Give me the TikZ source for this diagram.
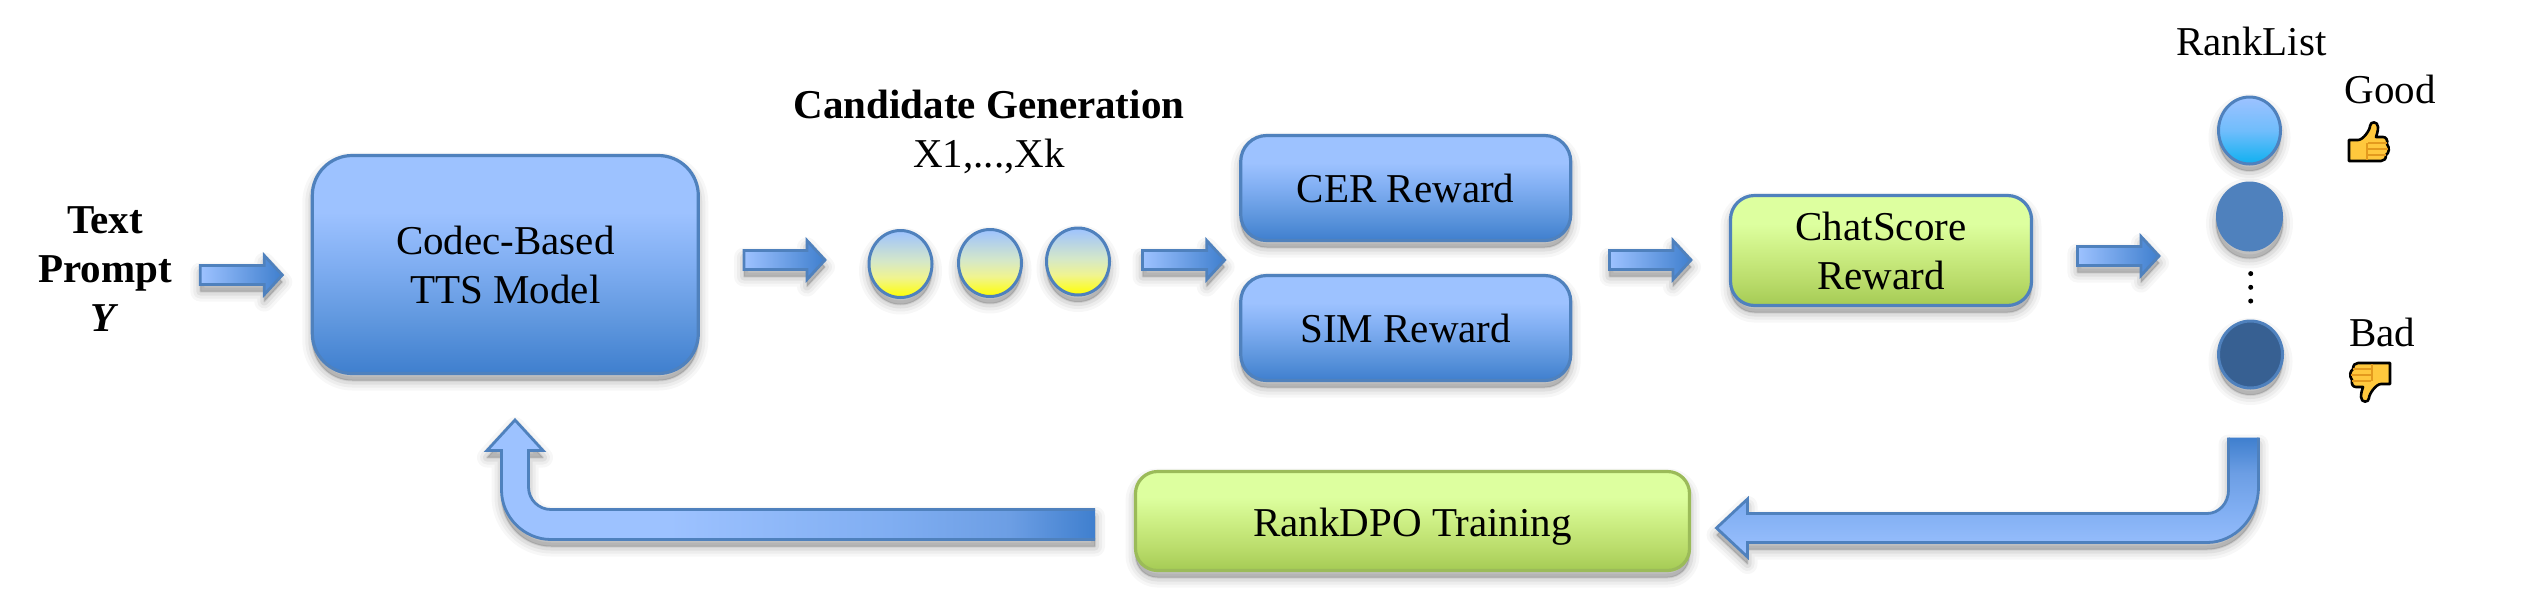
\documentclass[tikz,border=0pt]{standalone}
\usepackage{fontspec}
\setmainfont{Liberation Serif}
\usetikzlibrary{calc,shapes.geometric}
\definecolor{edgeblue}{HTML}{4F81BD}
\definecolor{lightblue}{HTML}{9DC2FF}
\definecolor{midblue}{HTML}{80AEF2}
\definecolor{darkblue}{HTML}{3F7FCE}
\definecolor{bluea}{HTML}{5F97DE}
\definecolor{blueb}{HTML}{6C9EE4}
\definecolor{greentop}{HTML}{DDFF9F}
\definecolor{greenbot}{HTML}{A5CB55}
\definecolor{greena}{HTML}{BBDD6C}
\definecolor{greenb}{HTML}{CDEF85}
\definecolor{greenedge}{HTML}{9BBB59}
\definecolor{canda}{HTML}{F0F490}
\definecolor{candb}{HTML}{D5E8C8}
\definecolor{cyanbot}{HTML}{0FB0F0}
\definecolor{cyanmid}{HTML}{70BDFC}
\definecolor{rankdark}{HTML}{376092}
\definecolor{thumbfill}{HTML}{FFC83D}
\definecolor{thumbline}{HTML}{E39A1E}
\pgfdeclareverticalshading{boxblue}{100bp}{color(0bp)=(darkblue);color(25bp)=(darkblue);color(37bp)=(bluea);color(50bp)=(midblue);color(62bp)=(lightblue);color(100bp)=(lightblue)}
\pgfdeclareverticalshading{boxgreen}{100bp}{color(0bp)=(greenbot);color(25bp)=(greenbot);color(37bp)=(greena);color(50bp)=(greenb);color(62bp)=(greentop);color(100bp)=(greentop)}
\pgfdeclareverticalshading{candidate}{100bp}{color(0bp)=(yellow);color(25bp)=(yellow);color(40bp)=(canda);color(52bp)=(candb);color(75bp)=(lightblue);color(100bp)=(lightblue)}
\pgfdeclareverticalshading{topcircle}{100bp}{color(0bp)=(cyanbot);color(25bp)=(cyanbot);color(50bp)=(cyanmid);color(75bp)=(lightblue);color(100bp)=(lightblue)}
\pgfdeclareverticalshading{downbend}{100bp}{color(0bp)=(lightblue);color(25bp)=(lightblue);color(45bp)=(midblue);color(60bp)=(blueb);color(75bp)=(darkblue);color(100bp)=(darkblue)}
\pgfdeclarehorizontalshading{sidebend}{100bp}{color(0bp)=(lightblue);color(25bp)=(lightblue);color(40bp)=(lightblue);color(58bp)=(midblue);color(68bp)=(blueb);color(75bp)=(darkblue);color(100bp)=(darkblue)}
\tikzset{
  softshadow/.style={
    preaction={fill=black,draw=black,opacity=.03,line join=round,line width=10pt,transform canvas={yshift=-3.5pt}},
    preaction={fill=black,draw=black,opacity=.04,line join=round,line width=7pt,transform canvas={yshift=-3.5pt}},
    preaction={fill=black,draw=black,opacity=.06,line join=round,line width=4pt,transform canvas={yshift=-3.5pt}},
    preaction={fill=black,draw=black,opacity=.08,line join=round,line width=1pt,transform canvas={yshift=-3.5pt}}},
  label text/.style={font=\fontsize{20.5}{24.5}\selectfont,inner sep=0pt,outer sep=0pt},
  panel/.style={label text,softshadow,draw=edgeblue,line width=1.6pt,align=center,minimum height=#1},
  bluebox/.style={panel=#1,shading=boxblue},
  greenbox/.style={panel=#1,shading=boxgreen},
  candidate dot/.style={ellipse,softshadow,draw=edgeblue,line width=1.5pt,shading=candidate,minimum width=31.5pt,minimum height=33.5pt,inner sep=0pt,outer sep=0pt},
  rank dot/.style={ellipse,softshadow,line width=1.5pt,minimum width=31.5pt,minimum height=33.5pt,inner sep=0pt,outer sep=0pt},
  blockarrow/.style={softshadow,draw=edgeblue,line width=1.4pt,miter limit=10,left color=lightblue,right color=darkblue},
  bentedge/.style={draw=edgeblue,line width=1.4pt,miter limit=10},
  thumbshape/.style={draw=black,line width=1.3pt,fill=thumbfill,line join=round},
  thumbcrease/.style={draw=thumbline,line width=.6pt}
}
% block arrow pointing right, from a named tail to a named tip
\newcommand{\rightblock}[2]{%
  \draw[blockarrow] ($(#1)+(0,9.5)$) -- ($(#2)+(-18,9.5)$) -- ($(#2)+(-18,19.5)$) -- (#2)
    -- ($(#2)+(-18,-19.5)$) -- ($(#2)+(-18,-9.5)$) -- ($(#1)+(0,-9.5)$) -- cycle;}
\newcommand{\thumbup}[1]{%
  \begin{scope}[shift={(#1)}]
    \draw[thumbshape] (0,39) -- (0,18) -- (9,18) .. controls (14,18) and (21,8) .. (21,4)
      .. controls (21,-1) and (29,-1) .. (29,5) .. controls (29,9) and (28,12) .. (27,15)
      -- (34,15) .. controls (37,15) and (39,18) .. (38,22) .. controls (41,26) and (40,31) .. (37,33)
      .. controls (37,37) and (35,39) .. (32,39) -- cycle;
    \draw[thumbcrease] (18,21) -- (18,38) (19,21) -- (38,21) (19,27) -- (39,27) (19,33) -- (37,33);
  \end{scope}}
\newcommand{\thumbdown}[1]{%
  \begin{scope}[shift={(#1)}]
    \draw[thumbshape] (39,0) -- (39,21) -- (30,21) .. controls (25,21) and (18,31) .. (18,35)
      .. controls (18,40) and (10,40) .. (10,34) .. controls (10,30) and (11,27) .. (12,24)
      -- (5,24) .. controls (2,24) and (0,21) .. (1,17) .. controls (-2,13) and (-1,8) .. (2,6)
      .. controls (2,2) and (4,0) .. (7,0) -- cycle;
    \draw[thumbcrease] (21,18) -- (21,1) (20,18) -- (1,18) (20,12) -- (0,12) (20,6) -- (2,6);
  \end{scope}}
\begin{document}
\begin{tikzpicture}[x=.5pt,y=-.5pt]
\useasboundingbox (0,0) rectangle (2527,596);
% text labels
\node[label text,align=center] (prompt) at (105,269.5) {\textbf{Text}\\\textbf{Prompt}\\\textbf{\textit{Y}}};
\node[label text,align=center] (cand) at (989,132) {\textbf{Candidate Generation}\\X1,...,Xk};
% boxes
\node[bluebox=109pt,rounded corners=20pt,minimum width=193pt] (codec) at (505.3,264.5) {Codec-Based\\TTS Model};
\node[bluebox=52.5pt,rounded corners=13pt,minimum width=165pt,text height=14pt,text depth=0pt] (cer) at (1405.7,188) {CER Reward};
\node[bluebox=52.5pt,rounded corners=13pt,minimum width=165pt,text height=14pt,text depth=0pt] (sim) at (1405.7,328) {SIM Reward};
\node[greenbox=55pt,rounded corners=12pt,minimum width=150.5pt] (chat) at (1881,250.5) {ChatScore\\Reward};
\node[greenbox=49.5pt,rounded corners=11pt,minimum width=277pt,draw=greenedge,text height=15pt,text depth=0pt] (dpo) at (1412.5,521) {RankDPO Training};
% candidates
\node[candidate dot] (x1) at (900.5,264) {};
\node[candidate dot] (x2) at (990,263) {};
\node[candidate dot] (x3) at (1078,261.5) {};
% rank list
\node[label text,anchor=base] (ranklist) at (2251.5,55.5) {RankList};
\node[rank dot,draw=edgeblue,shading=topcircle,minimum width=31pt] (r1) at (2249.5,130.5) {};
\node[rank dot,fill=edgeblue,minimum width=33.5pt,minimum height=35pt] (r2) at (2249.5,216.5) {};
\node[rank dot,draw=edgeblue,fill=rankdark,minimum width=32pt] (r3) at (2250.5,354.5) {};
\node[label text,anchor=base] (good) at (2390,103.4) {Good};
\node[label text,anchor=base] (bad) at (2382,346) {Bad};
\fill (2250.7,273.6) circle (1.25pt) (2250.7,287.3) circle (1.25pt) (2250.7,301) circle (1.25pt);
\thumbup{2349,122}
\thumbdown{2351,363}
% straight block arrows
\coordinate (a1t) at ($(codec.west)+(-112,10.5)$);
\coordinate (a1h) at ($(codec.west)+(-30,10.5)$);
\coordinate (a2t) at ($(codec.east)+(45.7,-4.5)$);
\coordinate (a2h) at ($(x1.west)+(-44,-4)$);
\coordinate (a3t) at ($(x3.east)+(33,-1.5)$);
\coordinate (a3h) at ($(cer.west)+(-16,72)$);
\coordinate (a4t) at ($(cer.east)+(38.7,72)$);
\coordinate (a4h) at ($(chat.west)+(-39.5,9.5)$);
\coordinate (a5t) at ($(chat.east)+(45.9,5.5)$);
\coordinate (a5h) at ($(r2.west)+(-57,39.5)$);
\rightblock{a1t}{a1h}
\rightblock{a2t}{a2h}
\rightblock{a3t}{a3h}
\rightblock{a4t}{a4h}
\rightblock{a5t}{a5h}
% bent arrow from the rank list to RankDPO
\coordinate (b1) at ($(r3.south)+(-7,49.5)$);
\coordinate (b2) at ($(dpo.east)+(27,7)$);
\coordinate (bc) at (b1 |- b2);
\path[softshadow,shading=downbend]
  ($(b1)+(-15,0)$) -- ($(bc)+(-15,-38)$) .. controls ($(bc)+(-15,-25)$) and ($(bc)+(-24.5,-14.5)$) .. ($(bc)+(-36.5,-14.5)$)
  -- ($(b2)+(31,-14.5)$) -- ($(b2)+(31,-29)$) -- (b2) -- ($(b2)+(31,29)$) -- ($(b2)+(31,14.5)$)
  -- ($(bc)+(-36.5,14.5)$) .. controls ($(bc)+(-8.5,14.5)$) and ($(bc)+(15,-10.5)$) .. ($(bc)+(15,-41)$) -- ($(b1)+(15,0)$) -- cycle;
\draw[bentedge]
  ($(b1)+(-15,0)$) -- ($(bc)+(-15,-38)$) .. controls ($(bc)+(-15,-25)$) and ($(bc)+(-24.5,-14.5)$) .. ($(bc)+(-36.5,-14.5)$)
  -- ($(b2)+(31,-14.5)$) -- ($(b2)+(31,-29)$) -- (b2) -- ($(b2)+(31,29)$) -- ($(b2)+(31,14.5)$)
  -- ($(bc)+(-36.5,14.5)$) .. controls ($(bc)+(-8.5,14.5)$) and ($(bc)+(15,-10.5)$) .. ($(bc)+(15,-41)$) -- ($(b1)+(15,0)$);
% bent arrow from RankDPO to the model
\coordinate (c1) at ($(dpo.west)+(-40.5,3.5)$);
\coordinate (c2) at ($(codec.south)+(9.7,46.5)$);
\coordinate (cc) at (c2 |- c1);
\path[softshadow,shading=sidebend]
  ($(c1)+(0,-15)$) -- ($(cc)+(36,-15)$) .. controls ($(cc)+(24,-15)$) and ($(cc)+(13.5,-24.5)$) .. ($(cc)+(13.5,-37.5)$)
  -- ($(c2)+(13.5,30.5)$) -- ($(c2)+(28,30.5)$) -- (c2) -- ($(c2)+(-28,30.5)$) -- ($(c2)+(-13.5,30.5)$)
  -- ($(cc)+(-13.5,-34.5)$) .. controls ($(cc)+(-13.5,-7.5)$) and ($(cc)+(9,15)$) .. ($(cc)+(36,15)$) -- ($(c1)+(0,15)$) -- cycle;
\draw[bentedge]
  ($(c1)+(0,-15)$) -- ($(cc)+(36,-15)$) .. controls ($(cc)+(24,-15)$) and ($(cc)+(13.5,-24.5)$) .. ($(cc)+(13.5,-37.5)$)
  -- ($(c2)+(13.5,30.5)$) -- ($(c2)+(28,30.5)$) -- (c2) -- ($(c2)+(-28,30.5)$) -- ($(c2)+(-13.5,30.5)$)
  -- ($(cc)+(-13.5,-34.5)$) .. controls ($(cc)+(-13.5,-7.5)$) and ($(cc)+(9,15)$) .. ($(cc)+(36,15)$) -- ($(c1)+(0,15)$);
\end{tikzpicture}
\end{document}
